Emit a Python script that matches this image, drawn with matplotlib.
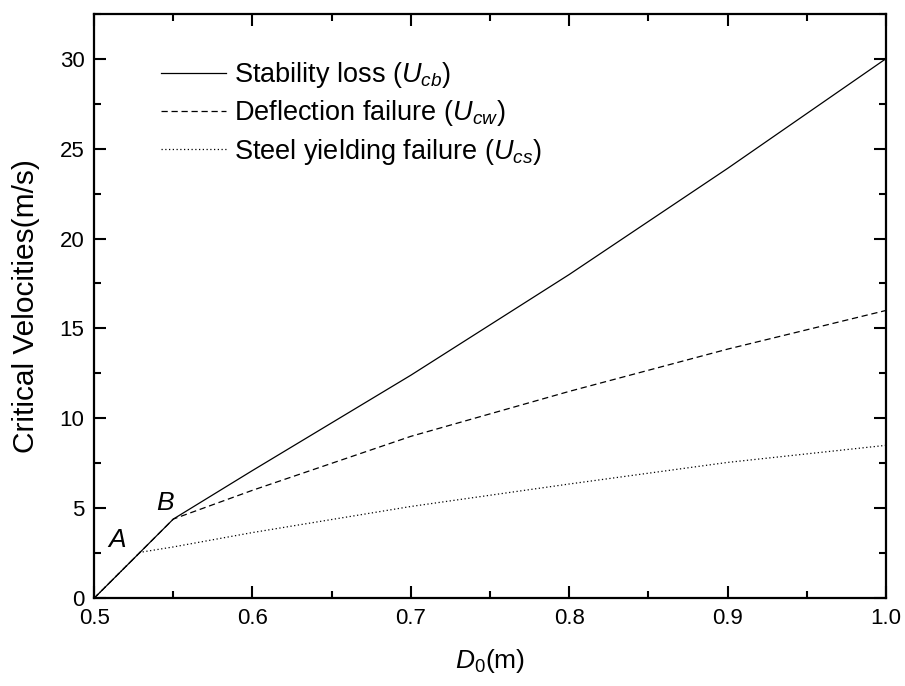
import matplotlib
matplotlib.use('Agg')
import matplotlib.pyplot as plt
from matplotlib.ticker import MultipleLocator

plt.rcParams['font.family'] = ['Liberation Sans', 'DejaVu Sans']
plt.rcParams['mathtext.fontset'] = 'custom'
plt.rcParams['mathtext.rm'] = 'Liberation Sans'
plt.rcParams['mathtext.it'] = 'Liberation Sans:italic'

# values
d_cb = [0.5, 0.55, 0.6, 0.7, 0.8, 0.9, 1.0]
u_cb = [0.0, 4.4, 7.1, 12.4, 18.0, 23.9, 30.0]

d_cw = [0.5, 0.55, 0.6, 0.7, 0.8, 0.9, 1.0]
u_cw = [0.0, 4.4, 6.0, 9.0, 11.5, 13.85, 16.0]

d_cs = [0.5, 0.529, 0.55, 0.6, 0.7, 0.8, 0.9, 1.0]
u_cs = [0.0, 2.55, 2.85, 3.65, 5.1, 6.35, 7.55, 8.5]

fig = plt.figure(figsize=(9.05, 6.86), dpi=100)
ax = fig.add_axes([0.104, 0.128, 0.875, 0.852])

ax.plot(d_cb, u_cb, color='black', lw=0.9, label='Stability loss ($U_{cb}$)')
ax.plot(d_cw, u_cw, color='black', lw=0.9, dashes=(5, 3), label='Deflection failure ($U_{cw}$)')
ax.plot(d_cs, u_cs, color='black', lw=0.9, dashes=(1, 2), label='Steel yielding failure ($U_{cs}$)')

ax.text(0.5148, 3.23, 'A', fontsize=19, style='italic', ha='center', va='center')
ax.text(0.5450, 5.31, 'B', fontsize=19, style='italic', ha='center', va='center')

ax.set_xlim(0.5, 1.0)
ax.set_ylim(0, 32.5)
ax.xaxis.set_major_locator(MultipleLocator(0.1))
ax.xaxis.set_minor_locator(MultipleLocator(0.05))
ax.yaxis.set_major_locator(MultipleLocator(5))
ax.yaxis.set_minor_locator(MultipleLocator(2.5))
ax.xaxis.set_major_formatter(plt.FormatStrFormatter('%.1f'))
ax.tick_params(which='both', direction='in', top=True, right=True, width=1.5, labelsize=16)
ax.tick_params(which='major', length=8.6, pad=7)
ax.tick_params(which='minor', length=5)
for s in ax.spines.values():
    s.set_linewidth(1.6)

ax.set_xlabel('$D_{\\mathit{0}}$(m)', fontsize=19, labelpad=13)
ax.set_ylabel('Critical Velocities(m/s)', fontsize=21.5, labelpad=14)

ax.legend(loc='upper left', bbox_to_anchor=(0.054, 0.962), frameon=False, fontsize=19.5,
          handlelength=2.4, handletextpad=0.3, labelspacing=0.3)

fig.savefig('out.png', dpi=100)
